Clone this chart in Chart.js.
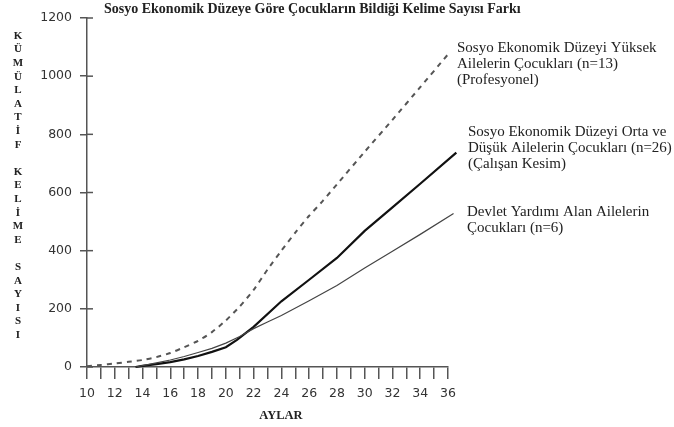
<!DOCTYPE html>
<html lang="tr">
<head>
<meta charset="utf-8">
<title>Sosyo Ekonomik Düzeye Göre Kelime Sayısı</title>
<script src="https://cdn.jsdelivr.net/npm/chart.js@4.4.1/dist/chart.umd.min.js"></script>
<style>
  html, body { margin: 0; padding: 0; background: #fff; }
  #wrap { width: 674px; height: 427px; position: relative; }
</style>
</head>
<body>
<div id="wrap"><canvas id="kelimeChart"></canvas></div>
<script>
// veriler (grafikten okunan yaklaşık değerler)
const highMonths = [10, 11, 12, 13, 14, 15, 16, 17, 18, 19, 20, 21, 22, 23, 24, 25, 26, 27, 28, 30, 32, 34, 36];
const highWords  = [3, 7, 12, 18, 24, 34, 48, 68, 90, 120, 160, 208, 265, 335, 400, 462, 520, 572, 628, 740, 850, 962, 1075];

const midMonths = [13.5, 14, 15, 16, 17, 18, 19, 20, 20.8, 22, 24, 26, 28, 30, 32, 34, 36.6];
const midWords  = [0, 4, 10, 17, 26, 38, 52, 68, 93, 138, 226, 300, 375, 468, 549, 630, 737];

const lowMonths = [13.5, 14, 15, 16, 17, 18, 19, 20, 21, 22, 23, 24, 26, 28, 30, 32, 34, 36.4];
const lowWords  = [0, 5, 14, 24, 36, 50, 64, 82, 105, 132, 155, 177, 228, 280, 340, 398, 456, 528];

const chartTitle = 'Sosyo Ekonomik Düzeye Göre Çocukların Bildiği Kelime Sayısı Farkı';
const yTitle = 'KÜMÜLATİF KELİME SAYISI';
const xTitle = 'AYLAR';
const highLabel = ['Sosyo Ekonomik Düzeyi Yüksek', 'Ailelerin Çocukları (n=13)', '(Profesyonel)'];
const midLabel  = ['Sosyo Ekonomik Düzeyi Orta ve', 'Düşük Ailelerin Çocukları (n=26)', '(Çalışan Kesim)'];
const lowLabel  = ['Devlet Yardımı Alan Ailelerin', 'Çocukları (n=6)'];

function toPoints(xs, ys) {
  return xs.map((x, i) => ({ x: x, y: ys[i] }));
}

const axisColor = '#555';

// yazılar ve y ekseninin iç tik çizgileri
const textPlugin = {
  id: 'metinler',
  afterDraw(chart) {
    const ctx = chart.ctx;
    const y = chart.scales.y;
    ctx.save();

    ctx.strokeStyle = axisColor;
    ctx.lineWidth = 1.5;
    y.ticks.forEach(t => {
      const py = y.getPixelForValue(t.value);
      ctx.beginPath();
      ctx.moveTo(y.right, py);
      ctx.lineTo(y.right + 6, py);
      ctx.stroke();
    });

    ctx.fillStyle = '#222';
    ctx.textBaseline = 'middle';
    ctx.textAlign = 'left';
    ctx.font = 'bold 14px "Liberation Serif"';
    ctx.fillText(chartTitle, 104, 9);

    ctx.textAlign = 'center';
    ctx.font = 'bold 11px "Liberation Serif"';
    yTitle.split('').forEach((ch, i) => {
      ctx.fillText(ch, 18, 36 + i * 13.6);
    });

    ctx.font = 'bold 12.5px "Liberation Serif"';
    ctx.fillText(xTitle, 281, 416);

    ctx.textAlign = 'left';
    ctx.font = '15px "Liberation Serif"';
    highLabel.forEach((s, i) => ctx.fillText(s, 457, 48 + i * 16));
    midLabel.forEach((s, i) => ctx.fillText(s, 468, 132 + i * 16));
    lowLabel.forEach((s, i) => ctx.fillText(s, 467, 212 + i * 16));

    ctx.restore();
  }
};

const ctx = document.getElementById('kelimeChart').getContext('2d');
new Chart(ctx, {
  type: 'line',
  data: {
    datasets: [
      {
        label: lowLabel.join(' '),
        data: toPoints(lowMonths, lowWords),
        borderColor: '#444',
        borderWidth: 1.2,
        pointRadius: 0,
        tension: 0,
        clip: false
      },
      {
        label: midLabel.join(' '),
        data: toPoints(midMonths, midWords),
        borderColor: '#111',
        borderWidth: 2.2,
        pointRadius: 0,
        tension: 0,
        clip: false
      },
      {
        label: highLabel.join(' '),
        data: toPoints(highMonths, highWords),
        borderColor: '#555',
        borderWidth: 2,
        borderDash: [5, 5],
        pointRadius: 0,
        tension: 0.2,
        clip: false
      }
    ]
  },
  options: {
    responsive: true,
    maintainAspectRatio: false,
    animation: false,
    layout: { padding: { left: 0, right: 226, top: 18, bottom: 0 } },
    plugins: {
      legend: { display: false },
      title: { display: false },
      tooltip: { enabled: false }
    },
    scales: {
      x: {
        type: 'linear',
        min: 10,
        max: 36,
        afterFit: s => { s.height = 60; },
        border: { display: true, color: axisColor, width: 1.5 },
        grid: { drawOnChartArea: false, color: axisColor, lineWidth: 1.5, tickLength: 12 },
        ticks: {
          stepSize: 1,
          autoSkip: false,
          maxRotation: 0,
          padding: 7,
          color: '#333',
          font: { family: 'DejaVu Sans', size: 12.5 },
          callback: v => (v % 2 === 0 ? String(v) : '')
        }
      },
      y: {
        min: 0,
        max: 1200,
        afterFit: s => { s.width = 87; },
        border: { display: true, color: axisColor, width: 1.5 },
        grid: { drawOnChartArea: false, color: axisColor, lineWidth: 1.5, tickLength: 7 },
        ticks: {
          stepSize: 200,
          padding: 8,
          color: '#333',
          font: { family: 'DejaVu Sans', size: 12.5 },
          callback: v => String(v)
        }
      }
    }
  },
  plugins: [textPlugin]
});
</script>
</body>
</html>
